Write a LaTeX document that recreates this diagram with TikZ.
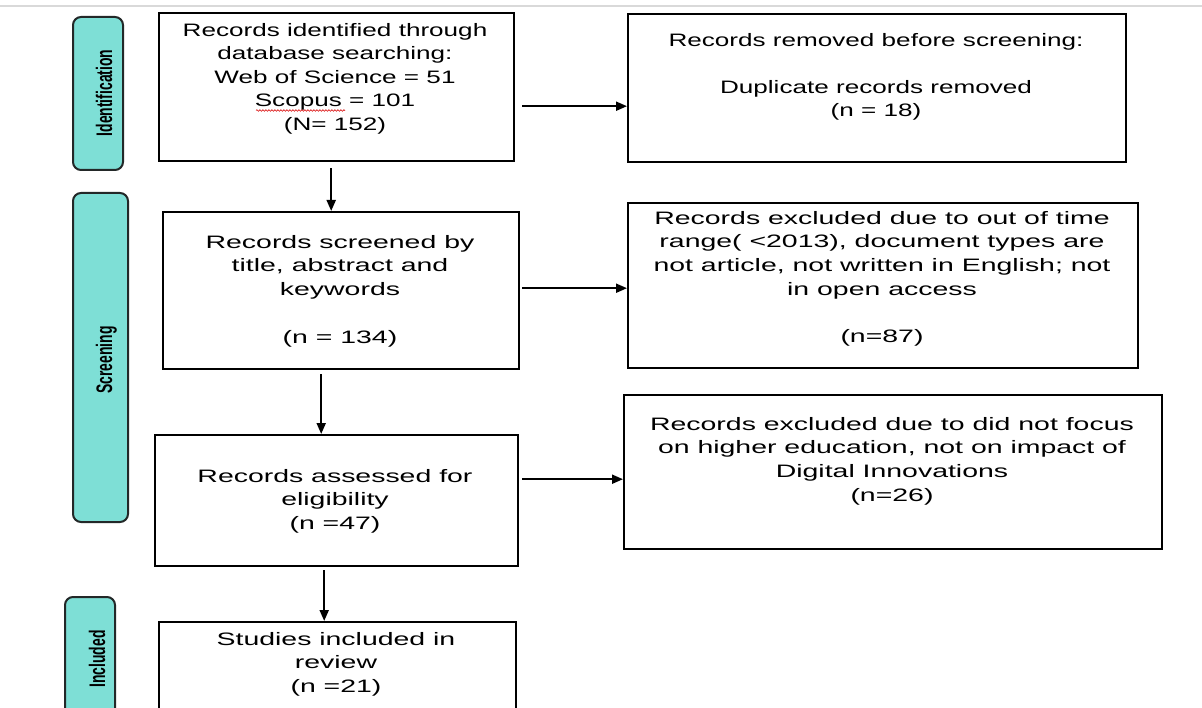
\documentclass[tikz,border=0pt]{standalone}
\usepackage{fontspec}
\setmainfont[FakeStretch=1.58]{Liberation Sans}
\newfontfamily\narrowtxt[FakeStretch=1.45]{Liberation Sans}
\newfontfamily\barfont[FakeStretch=0.62]{Liberation Sans}
\usepackage{xcolor}
\usepackage{tikz}
\usetikzlibrary{arrows.meta,decorations.pathmorphing}

\definecolor{phasefill}{RGB}{126,223,214}
\definecolor{phaseline}{RGB}{35,40,40}

\tikzset{
  box/.style={draw, line width=2.4pt, inner sep=0pt, anchor=north west},
  txt/.style={anchor=north, align=center, inner sep=0pt,
    font=\fontsize{18}{23.7}\selectfont},
  arr/.style={-{Triangle[length=11pt,width=9pt]}, line width=2pt},
  phase/.style={fill=phasefill, draw=phaseline, line width=2pt, rounded corners=8pt},
  phaselbl/.style={rotate=90, anchor=base, inner sep=0pt,
    font=\barfont\bfseries\fontsize{22.5}{24}\selectfont}
}

\begin{document}
\begin{tikzpicture}[x=1pt, y=-1pt]
  \path[use as bounding box] (0,0) rectangle (1202,708);
  \clip (0,0) rectangle (1202,708);
  \fill[white] (0,0) rectangle (1202,708);
  \draw[gray!30, line width=1.5pt] (0,6) -- (1202,6);
  % phase bars
  \draw[phase] (73,17) rectangle (123,170);
  \draw[phase] (73,193) rectangle (128,522);
  \draw[phase] (65,597) rectangle (115,740);
  \node[phaselbl] (lblident) at (112,93) {Identification};
  \node[phaselbl] (lblscreen) at (112,360) {Screening};
  \node[phaselbl] (lblincl) at (105,659) {Included};
  % boxes
  \node[box, minimum width=355pt, minimum height=148pt] (ident) at (158,12) {};
  \node[box, minimum width=498pt, minimum height=148pt] (removed) at (627,13) {};
  \node[box, minimum width=356pt, minimum height=157pt] (screen) at (162,211) {};
  \node[box, minimum width=510pt, minimum height=165pt] (excltime) at (627,202) {};
  \node[box, minimum width=363pt, minimum height=131pt] (elig) at (154,434) {};
  \node[box, minimum width=538pt, minimum height=154pt] (exclfocus) at (623,394) {};
  \node[box, minimum width=357pt, minimum height=130pt] (incl) at (158,621) {};
  % texts
  \node[txt, font=\narrowtxt\fontsize{18}{23.5}\selectfont] (identtxt) at (335,23)
    {Records identified through\\database searching:\\Web of Science = 51\\Scopus = 101\\(N= 152)};
  \draw[red!85!black, line width=0.6pt, decorate,
    decoration={snake, amplitude=0.8pt, segment length=3pt}] (256,110.5) -- (345,110.5);
  \node[txt, font=\narrowtxt\fontsize{18}{23.5}\selectfont] (removedtxt) at (876,33)
    {Records removed before screening:\\[23.5pt]Duplicate records removed\\(n = 18)};
  \node[txt] (screentxt) at (340,235)
    {Records screened by\\title, abstract and\\keywords\\[23.7pt](n = 134)};
  \node[txt] (excltimetxt) at (882,211)
    {Records excluded due to out of time\\range( <2013), document types are\\not article, not written in English; not\\in open access\\[23.7pt](n=87)};
  \node[txt] (eligtxt) at (335,469)
    {Records assessed for\\eligibility\\(n =47)};
  \node[txt] (exclfocustxt) at (892,417)
    {Records excluded due to did not focus\\on higher education, not on impact of\\Digital Innovations\\(n=26)};
  \node[txt] (incltxt) at (336,632)
    {Studies included in\\review\\(n =21)};
  % arrows
  \draw[arr] ([xshift=-5.5pt, yshift=-6pt]ident.south) -- ([xshift=-5.5pt]ident.south |- screen.north);
  \draw[arr] ([xshift=-20pt, yshift=-4pt]screen.south) -- ([xshift=-20pt]screen.south |- elig.north);
  \draw[arr] ([xshift=-12.5pt, yshift=-3pt]elig.south) -- ([xshift=-12.5pt]elig.south |- incl.north);
  \draw[arr] ([xshift=7pt, yshift=-19pt]ident.east) -- ([yshift=-19pt]ident.east -| removed.west);
  \draw[arr] ([xshift=2pt, yshift=2.5pt]screen.east) -- ([yshift=2.5pt]screen.east -| excltime.west);
  \draw[arr] ([xshift=3pt, yshift=21.5pt]elig.east) -- ([yshift=21.5pt]elig.east -| exclfocus.west);
\end{tikzpicture}
\end{document}
